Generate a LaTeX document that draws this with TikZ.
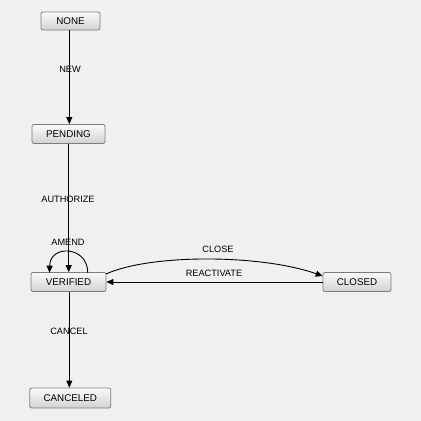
\documentclass[tikz,border=0pt]{standalone}
\usepackage{fontspec}
\setmainfont{Liberation Sans}
\usetikzlibrary{arrows.meta,shadings}
\definecolor{bg}{HTML}{F0F0F0}
\definecolor{boxtop}{HTML}{FAFAFA}
\definecolor{boxbot}{HTML}{D2D2D2}
\definecolor{boxline}{HTML}{7C7C7C}
\tikzset{
  state/.style={draw=boxline, line width=0.8pt, rounded corners=2pt, top color=boxtop, bottom color=boxbot,
    minimum height=19pt, inner sep=0pt, font=\fontsize{9.8}{10}\selectfont, text=black},
  trans/.style={draw=black, line width=0.9pt, -{Triangle[width=6pt,length=7pt]}},
  lbl/.style={font=\fontsize{9.2}{10}\selectfont, inner sep=0pt, text=black}
}
\begin{document}
\begin{tikzpicture}[x=1pt,y=-1pt]
\fill[bg] (0,0) rectangle (421,421);
\useasboundingbox (0,0) rectangle (421,421);
\node[state, minimum width=59pt, minimum height=18pt] (none) at (70.5,21) {NONE};
\node[state, minimum width=73pt] (pending) at (68.5,134) {PENDING};
\node[state, minimum width=75pt] (verified) at (68.5,282) {VERIFIED};
\node[state, minimum width=68pt] (closed) at (357,282) {CLOSED};
\node[state, minimum width=81pt, minimum height=20pt] (canceled) at (70.3,398) {CANCELED};

\draw[trans] (none.south -| 69.3,0) -- (pending.north -| 69.3,0);
\node[lbl] (lnew) at (70,69) {NEW};

\draw[trans] (pending.south -| 68.7,0) -- (verified.north -| 68.7,0);
\node[lbl] (lauth) at (68,199) {AUTHORIZE};

\coordinate (ls) at (87.7,272.7);
\coordinate (le) at (49.5,272.7);
\draw[trans] (ls) .. controls (88,246) and (50,244) .. (le);
\node[lbl] (lamend) at (68,242) {AMEND};

\coordinate (cs) at (106,274);
\coordinate (ce) at (322.7,276);
\draw[trans] (cs) .. controls (150,254) and (260,254) .. (ce);
\node[lbl] (lclose) at (218,249) {CLOSE};

\draw[trans] (closed.west) -- (verified.east);
\node[lbl] (lreact) at (214,273) {REACTIVATE};

\draw[trans] (verified.south -| 69.3,0) -- (canceled.north -| 69.3,0);
\node[lbl] (lcancel) at (69,331) {CANCEL};
\end{tikzpicture}
\end{document}
